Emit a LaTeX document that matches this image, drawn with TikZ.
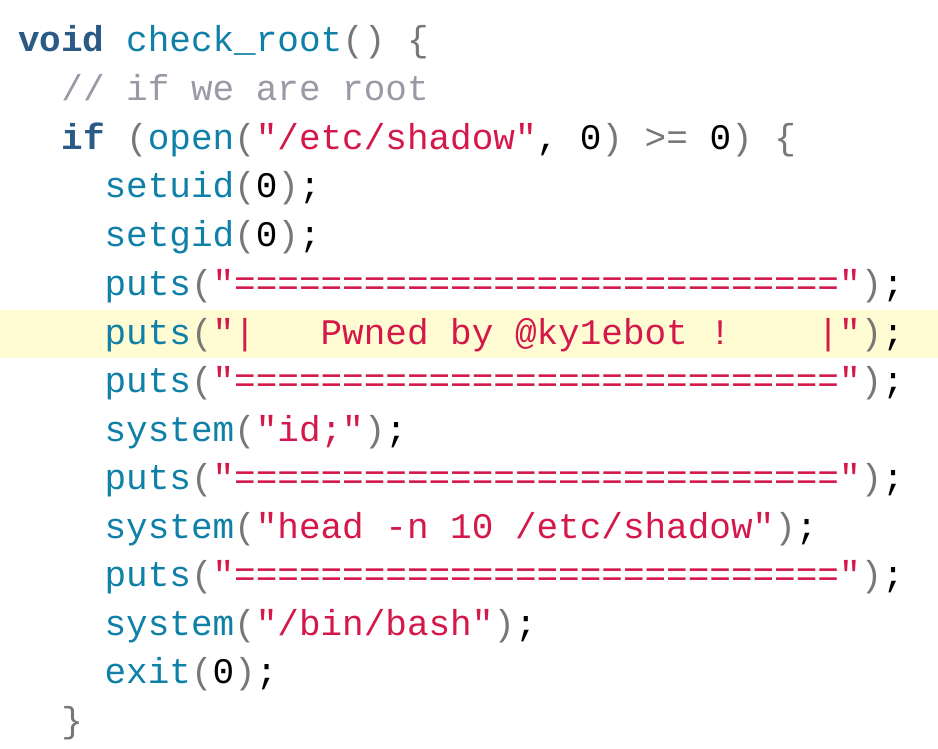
\documentclass[tikz,border=0pt]{standalone}
\usepackage{fontspec}
\setmonofont{Liberation Mono}
\definecolor{kw}{HTML}{2A5A86}
\definecolor{fn}{HTML}{0F80A8}
\definecolor{str}{HTML}{D4184A}
\definecolor{cmt}{HTML}{9A99A6}
\definecolor{pun}{HTML}{777777}
\definecolor{hl}{HTML}{FFFBD2}
\newcommand{\K}[1]{\textcolor{kw}{\bfseries #1}}
\newcommand{\F}[1]{\textcolor{fn}{#1}}
\newcommand{\St}[1]{\textcolor{str}{#1}}
\newcommand{\Pn}[1]{\textcolor{pun}{#1}}
\newcommand{\eqs}{============================}
\tikzset{
  code/.style={anchor=base west,inner sep=0pt,font=\ttfamily\fontsize{36}{40}\selectfont},
}
\begin{document}
\begin{tikzpicture}[x=1pt,y=-1pt]
        \useasboundingbox (0,0) rectangle (938,749);
        \fill[white] (0,0) rectangle (938,749);
        \fill[hl] (0,310) rectangle (938,358);

        \node (l1) at (18,52) [code] {\K{void} \F{check\_root}\Pn{()} \Pn{\{}};
        \node (l2) at (18,101) [code] {\ \ \textcolor{cmt}{// if we are root}};
        \node (l3) at (18,150) [code] {\ \ \K{if} \Pn{(}\F{open}\Pn{(}\St{"/etc/shadow"}, 0\Pn{)} \Pn{>=} 0\Pn{)} \Pn{\{}};
        \node (l4) at (18,198) [code] {\ \ \ \ \F{setuid}\Pn{(}0\Pn{)};};
        \node (l5) at (18,247) [code] {\ \ \ \ \F{setgid}\Pn{(}0\Pn{)};};
        \node (l6) at (18,295) [code] {\ \ \ \ \F{puts}\Pn{(}\St{"\eqs"}\Pn{)};};
        \node (l7) at (18,344) [code] {\ \ \ \ \F{puts}\Pn{(}\St{"|\ \ \ Pwned by @ky1ebot !\ \ \ \ |"}\Pn{)};};
        \node (l8) at (18,392) [code] {\ \ \ \ \F{puts}\Pn{(}\St{"\eqs"}\Pn{)};};
        \node (l9) at (18,441) [code] {\ \ \ \ \F{system}\Pn{(}\St{"id;"}\Pn{)};};
        \node (l10) at (18,489) [code] {\ \ \ \ \F{puts}\Pn{(}\St{"\eqs"}\Pn{)};};
        \node (l11) at (18,538) [code] {\ \ \ \ \F{system}\Pn{(}\St{"head -n 10 /etc/shadow"}\Pn{)};};
        \node (l12) at (18,586) [code] {\ \ \ \ \F{puts}\Pn{(}\St{"\eqs"}\Pn{)};};
        \node (l13) at (18,635) [code] {\ \ \ \ \F{system}\Pn{(}\St{"/bin/bash"}\Pn{)};};
        \node (l14) at (18,683) [code] {\ \ \ \ \F{exit}\Pn{(}0\Pn{)};};
        \node (l15) at (18,732) [code] {\ \ \Pn{\}}};
    \end{tikzpicture}
\end{document}
